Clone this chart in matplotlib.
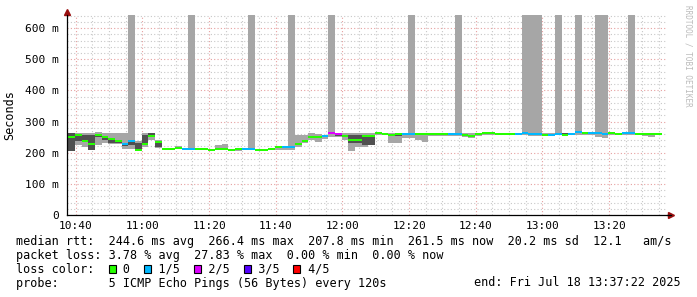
import numpy as np
import matplotlib
matplotlib.use("Agg")
import matplotlib.pyplot as plt
from matplotlib.patches import Rectangle

# median rtt per 2-minute step (ms), starting ~10:37:48
median = [251, 257, 236, 228, 257, 251, 243, 238, 228, 238,
          209, 228, 255, 235, 211, 213, 215, 212, 212, 211,
          211, 209, 213, 213, 209, 211, 211, 212, 209, 209,
          211, 219, 219, 219, 228, 238, 251, 249, 253, 264,
          260, 253, 241, 241, 252, 255, 262, 260, 257, 260,
          260, 260, 260, 260, 259, 259, 259, 260, 260, 257,
          253, 260, 262, 264, 259, 259, 259, 260, 264, 260,
          259, 258, 258, 259, 258, 261, 265, 264, 264, 264,
          260, 262, 260, 262, 262, 260, 259, 259, 260]
# loss colour index (0 = no loss, 1 = 1/5, 2 = 2/5 ...)
loss_color = [0, 0, 0, 0, 0, 0, 0, 0, 1, 1,
              0, 0, 0, 0, 0, 0, 0, 1, 1, 0,
              0, 0, 0, 0, 0, 0, 1, 1, 0, 0,
              0, 0, 1, 1, 0, 0, 0, 0, 1, 2,
              2, 0, 0, 0, 0, 0, 0, 0, 0, 0,
              1, 1, 0, 0, 0, 0, 0, 1, 1, 0,
              0, 0, 0, 0, 0, 0, 0, 1, 1, 1,
              1, 0, 1, 1, 0, 1, 1, 0, 1, 1,
              1, 0, 0, 1, 1, 0, 0, 0, 0]
# steps with lost pings (drawn as tall bars)
lost = [0, 0, 0, 0, 0, 0, 0, 0, 0, 1,
        0, 0, 0, 0, 0, 0, 0, 0, 1, 0,
        0, 0, 0, 0, 0, 0, 0, 1, 0, 0,
        0, 0, 0, 1, 0, 0, 0, 0, 0, 1,
        0, 0, 0, 0, 0, 0, 0, 0, 0, 0,
        0, 1, 0, 0, 0, 0, 0, 0, 1, 0,
        0, 0, 0, 0, 0, 0, 0, 0, 1, 1,
        1, 0, 0, 1, 0, 0, 1, 0, 0, 1,
        1, 0, 0, 0, 1, 0, 0, 0, 0]
# smoke: outer (min..max) and inner ranges (ms)
outer_lo = [205, 225, 219, 209, 225, 230, 228, 228, 211, 211,
            205, 219, 240, 214, 209, 209, 211, 209, 209, 208,
            208, 207, 209, 209, 207, 207, 209, 209, 206, 206,
            208, 209, 209, 209, 219, 232, 240, 235, 245, 250,
            250, 241, 206, 219, 219, 225, 257, 257, 230, 230,
            248, 248, 240, 235, 255, 255, 255, 255, 255, 250,
            246, 255, 258, 258, 256, 256, 256, 256, 256, 255,
            255, 255, 255, 256, 256, 256, 256, 258, 256, 250,
            246, 258, 258, 256, 256, 257, 254, 251, 256]
outer_hi = [262, 264, 262, 262, 267, 264, 264, 264, 264, 249,
            238, 262, 262, 240, 214, 216, 221, 214, 214, 213,
            214, 212, 225, 228, 212, 212, 214, 214, 211, 212,
            213, 221, 221, 222, 257, 257, 262, 260, 258, 266,
            264, 262, 262, 262, 262, 262, 264, 264, 262, 262,
            262, 262, 264, 264, 262, 262, 262, 264, 264, 264,
            264, 264, 264, 266, 262, 262, 262, 264, 266, 264,
            262, 264, 262, 264, 264, 264, 266, 266, 266, 266,
            264, 266, 264, 264, 264, 262, 262, 262, 264]
inner_lo = [205, 238, 238, 209, 250, 240, 232, 232, 222, 225,
            205, 230, 251, 219, 211, 213, 215, 212, 212, 211,
            211, 209, 211, 211, 209, 211, 211, 212, 209, 209,
            211, 219, 219, 219, 225, 236, 248, 246, 253, 264,
            252, 249, 230, 230, 225, 225, 262, 260, 253, 253,
            260, 260, 260, 260, 259, 259, 259, 260, 260, 257,
            253, 258, 262, 264, 259, 259, 259, 258, 264, 260,
            259, 258, 258, 258, 258, 261, 265, 264, 264, 264,
            260, 262, 260, 262, 262, 260, 259, 259, 260]
inner_hi = [262, 253, 257, 257, 257, 251, 243, 238, 232, 238,
            230, 257, 262, 235, 211, 213, 215, 212, 212, 211,
            211, 209, 215, 215, 209, 211, 211, 212, 209, 209,
            211, 219, 219, 219, 230, 240, 252, 250, 253, 264,
            260, 255, 257, 257, 251, 251, 262, 260, 257, 257,
            260, 260, 260, 260, 259, 259, 259, 260, 260, 257,
            253, 262, 262, 264, 259, 259, 259, 260, 264, 260,
            259, 258, 258, 262, 262, 261, 265, 264, 264, 264,
            260, 262, 260, 262, 262, 260, 259, 259, 260]

loss_colors = ['#26ff00', '#00b8ff', '#dd00ff', '#5500ff', '#ff0000']
loss_labels = ['0', '1/5', '2/5', '3/5', '4/5']
tick_mins = [40, 60, 80, 100, 120, 140, 160, 180, 200]
tick_labels = ['10:40', '11:00', '11:20', '11:40', '12:00', '12:20', '12:40', '13:00', '13:20']
ytick_vals = [0, 100, 200, 300, 400, 500, 600]
ytick_labels = ['0', '100 m', '200 m', '300 m', '400 m', '500 m', '600 m']

x_start, x_end = 37.37, 217.37   # 10:37:22 .. 13:37:22 in minutes after 10:00
y_top = 642
t = 37.8 + 2 * np.arange(len(median))

W, H = 697, 297
fig = plt.figure(figsize=(W / 100, H / 100), dpi=100)
fig.patch.set_facecolor('white')
ax = fig.add_axes([67 / W, (H - 215) / H, 600 / W, 200 / H])
mono = 'DejaVu Sans Mono'

med = np.array(median, float)
olo, ohi = np.array(outer_lo, float), np.array(outer_hi, float)
ilo, ihi = np.array(inner_lo, float), np.array(inner_hi, float)
lostm = np.array(lost, bool)

ax.bar(t, ohi - olo, bottom=olo, width=2, align='edge', color='#a6a6a6', lw=0, zorder=2)
ax.bar(t[lostm], y_top - ohi[lostm], bottom=ohi[lostm], width=2, align='edge',
       color='#a6a6a6', lw=0, zorder=2)
ax.bar(t, ihi - ilo, bottom=ilo, width=2, align='edge', color='#505050', lw=0, zorder=3)
ax.bar(t, 6.4, bottom=med - 3.2, width=2, align='edge',
       color=[loss_colors[c] for c in loss_color], lw=0, zorder=4)

ax.set_xlim(x_start, x_end)
ax.set_ylim(0, y_top)
ax.set_xticks(tick_mins)
ax.set_xticklabels(tick_labels, fontfamily=mono, fontsize=8)
ax.set_xticks(np.arange(40, 217, 5), minor=True)
ax.set_yticks(ytick_vals)
ax.set_yticklabels(ytick_labels, fontfamily=mono, fontsize=8)
ax.set_yticks(np.arange(0, 641, 20), minor=True)
ax.tick_params(which='both', length=0)
ax.tick_params(axis='x', pad=4)
ax.tick_params(axis='y', pad=6)

ax.grid(which='minor', color='#c8c8c8', linestyle=(0, (1, 2)), lw=0.8, zorder=0)
ax.grid(which='major', color='#e6a0a0', linestyle=(0, (1, 2)), lw=0.8, zorder=1)
ax.set_axisbelow(True)
for s in ['top', 'right']:
    ax.spines[s].set_visible(False)
for s in ['left', 'bottom']:
    ax.spines[s].set_color('black')
    ax.spines[s].set_linewidth(0.9)
    ax.spines[s].set_zorder(6)

# axis arrows
ax.plot([0], [1.0 + 3 / 200], marker='^', color='#9a1010', ms=4, transform=ax.transAxes, clip_on=False)
ax.plot([1.0 + 4 / 600], [0], marker='>', color='#9a1010', ms=4, transform=ax.transAxes, clip_on=False)
ax.plot([1.0, 1.0 + 4 / 600], [0, 0], color='black', lw=0.9, transform=ax.transAxes, clip_on=False)

fig.text(10 / W, 1 - 115 / H, 'Seconds', rotation=90, fontfamily=mono, fontsize=8.5,
         ha='center', va='center')
fig.text(688 / W, 1 - 5 / H, 'RRDTOOL / TOBI OETIKER', rotation=270, fontfamily=mono,
         fontsize=5.5, color='#bbbbbb', ha='center', va='top')

lines = [
    'median rtt:  244.6 ms avg  266.4 ms max  207.8 ms min  261.5 ms now  20.2 ms sd  12.1   am/s',
    'packet loss: 3.78 % avg  27.83 % max  0.00 % min  0.00 % now',
    'loss color:    0    1/5    2/5    3/5    4/5',
    'probe:       5 ICMP Echo Pings (56 Bytes) every 120s',
]
ys = [241, 255, 269, 283]
for s, y in zip(lines, ys):
    fig.text(16 / W, 1 - y / H, s, fontfamily=mono, fontsize=8.5, ha='left', va='center')
fig.text(681 / W, 1 - 283 / H, 'end: Fri Jul 18 13:37:22 2025', fontfamily=mono, fontsize=8.5,
         ha='right', va='center')

char_w = 7.1
for i, (c, col) in enumerate(zip(loss_colors, [13, 18, 25, 32, 39])):
    x0 = 16 + col * char_w + 0.5
    fig.patches.append(Rectangle((x0 / W, 1 - 273 / H), 7 / W, 8 / H, transform=fig.transFigure,
                                 facecolor=c, edgecolor='black', lw=0.8))

fig.savefig('out.png', dpi=100, facecolor='white')
